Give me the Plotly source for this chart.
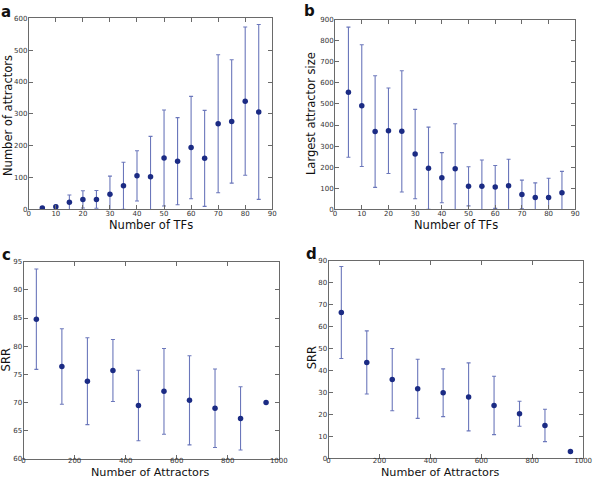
import plotly.graph_objects as go

# ---- data ----
tfs = [5, 10, 15, 20, 25, 30, 35, 40, 45, 50, 55, 60, 65, 70, 75, 80, 85]
n_attr = [4, 8, 22, 31, 31, 47, 74, 105, 102, 161, 151, 194, 160, 269, 276, 340, 306]
n_attr_err = [2, 4, 23, 27, 28, 57, 74, 79, 127, 151, 137, 161, 151, 217, 194, 233, 275]

largest = [556, 492, 369, 373, 370, 262, 195, 150, 192, 109, 109, 106, 111, 70, 56, 56, 78]
largest_err = [309, 289, 265, 203, 288, 212, 195, 119, 214, 93, 125, 102, 126, 68, 69, 91, 102]

attr_bins = [50, 150, 250, 350, 450, 550, 650, 750, 850, 950]
srr_c = [84.8, 76.4, 73.8, 75.7, 69.5, 72.0, 70.4, 69.0, 67.2, 70.0]
srr_c_err = [8.9, 6.7, 7.7, 5.5, 6.25, 7.6, 7.9, 6.95, 5.6, 0]
srr_d = [66.5, 43.7, 35.9, 31.7, 29.9, 28.0, 24.1, 20.3, 15.0, 3.1]
srr_d_err = [21.0, 14.4, 14.2, 13.5, 10.9, 15.5, 13.3, 5.7, 7.4, 0]

W, H = 600, 481
MARK = '#1b2b84'
ERR = '#6b77bb'
FONT = 'DejaVu Sans'

def px_x(a, b):
    return [a / W, b / W]

def px_y(top, bottom):
    return [1 - bottom / H, 1 - top / H]

fig = go.Figure()

def add(x, y, err, xa, ya):
    fig.add_trace(go.Scatter(
        x=x, y=y, mode='markers',
        marker=dict(color=MARK, size=5.5, line=dict(width=0)),
        error_y=dict(type='data', array=err, visible=True, color=ERR,
                     thickness=1.1, width=2),
        xaxis=xa, yaxis=ya, showlegend=False, cliponaxis=True))

add(tfs, n_attr, n_attr_err, 'x', 'y')
add(tfs, largest, largest_err, 'x2', 'y2')
add(attr_bins, srr_c, srr_c_err, 'x3', 'y3')
add(attr_bins, srr_d, srr_d_err, 'x4', 'y4')

ax_common = dict(showgrid=False, zeroline=False, showline=True, linecolor='#6a6a6a',
                 linewidth=1, mirror='allticks', ticks='inside', ticklen=4,
                 tickcolor='#6a6a6a', tickwidth=1,
                 tickfont=dict(family=FONT, size=7, color='#333333'))
xax = dict(ticklabelstandoff=-3, **ax_common)
xax_low = dict(ticklabelstandoff=-5, **ax_common)
yax = dict(ticklabelstandoff=-1, **ax_common)

fig.update_layout(
    width=W, height=H, autosize=False,
    margin=dict(l=0, r=0, t=0, b=0),
    paper_bgcolor='white', plot_bgcolor='white',
    xaxis=dict(domain=px_x(27.3, 275.3), anchor='y', range=[0, 90], dtick=10, **xax),
    yaxis=dict(domain=px_y(14.7, 208.7), anchor='x', range=[0, 600], dtick=100, **yax),
    xaxis2=dict(domain=px_x(339.3, 584), anchor='y2', range=[0, 90], dtick=10, **xax),
    yaxis2=dict(domain=px_y(16, 208.7), anchor='x2', range=[0, 900], dtick=100, **yax),
    xaxis3=dict(domain=px_x(22, 282), anchor='y3', range=[0, 1000], dtick=200, **xax_low),
    yaxis3=dict(domain=px_y(262, 462.7), anchor='x3', range=[60, 95], dtick=5, **yax),
    xaxis4=dict(domain=px_x(332.7, 592), anchor='y4', range=[0, 1000], dtick=200, **xax_low),
    yaxis4=dict(domain=px_y(261.3, 462), anchor='x4', range=[0, 90], dtick=10, **yax),
)

def ann(text, x, y, size=11.5, angle=0, bold=False):
    fig.add_annotation(text=('<b>%s</b>' % text) if bold else text,
                       x=x / W, y=1 - y / H, xref='paper', yref='paper',
                       showarrow=False, textangle=angle,
                       xanchor='center', yanchor='middle',
                       font=dict(family=FONT, size=size, color='#111111'))

def ann_bottom(text, x):
    fig.add_annotation(text=text, x=x / W, y=0, xref='paper', yref='paper',
                       showarrow=False, xanchor='center', yanchor='bottom',
                       yshift=-3, borderpad=0,
                       font=dict(family=FONT, size=11.2, color='#111111'))

ann('Number of TFs', 152, 224.5)
ann('Number of TFs', 462.7, 224.5)
ann_bottom('Number of Attractors', 151.3)
ann_bottom('Number of Attractors', 447)
ann('Number of attractors', 6, 113, angle=-90)
ann('Largest attractor size', 315, 111.7, angle=-90)
ann('SRR', 5, 361.5, angle=-90)
ann('SRR', 316, 360, angle=-90)
ann('a', 4.5, 8, size=15, bold=True)
ann('b', 313, 7, size=15, bold=True)
ann('c', 4.5, 255, size=15, bold=True)
ann('d', 315.5, 254, size=15, bold=True)

fig.write_html('out.html', config={'displayModeBar': False},
               post_script="document.body.style.margin='0px';document.body.style.overflow='hidden';")
